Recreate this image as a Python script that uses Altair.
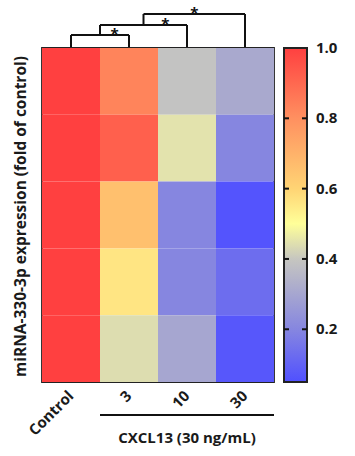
import altair as alt
import pandas as pd

# ---- data ----
groups = ["Control", "3", "10", "30"]
replicates = ["1", "2", "3", "4", "5"]
control_vals = [1.00, 1.00, 1.00, 1.00, 1.00]
cxcl3_vals = [0.83, 0.92, 0.66, 0.56, 0.44]
cxcl10_vals = [0.39, 0.45, 0.20, 0.20, 0.30]
cxcl30_vals = [0.31, 0.20, 0.06, 0.13, 0.07]
legend_ticks = [0.2, 0.4, 0.6, 0.8, 1.0]
color_domain = [0.05, 0.2, 0.4, 0.5, 0.6, 0.8, 1.0]
color_range = ["#5050FF", "#8686E0", "#C6C6C0", "#FFFF99", "#FFD474", "#FF9060", "#FF4040"]
# significance comparisons: each bracket ends on this column index
sig_right = [1, 2, 3]

FONT = "Open Sans"
W, H = 232, 334
cw = W / len(groups)
TXT = "#1a1a1a"

rows = []
for g, vals in zip(groups, [control_vals, cxcl3_vals, cxcl10_vals, cxcl30_vals]):
    for r, v in zip(replicates, vals):
        rows.append({"group": g, "rep": r, "value": v})
df = pd.DataFrame(rows)

cscale = alt.Scale(domain=color_domain, range=color_range, interpolate="rgb")

heat = alt.Chart(df).mark_rect().encode(
    x=alt.X("group:N", sort=groups, scale=alt.Scale(paddingInner=0, paddingOuter=0),
            axis=alt.Axis(title=None, labelAngle=-45, labelAlign="right", labelBaseline="middle",
                          labelPadding=11, ticks=False, domain=False, labelFont=FONT,
                          labelFontSize=15, labelFontWeight="bold", labelColor=TXT)),
    y=alt.Y("rep:N", sort=replicates, scale=alt.Scale(paddingInner=0, paddingOuter=0),
            axis=alt.Axis(labels=False, ticks=False, domain=False,
                          title="miRNA-330-3p expression (fold of control)",
                          titleFont=FONT, titleFontSize=15.5, titleFontWeight="bold",
                          titleColor=TXT, titleAngle=-90, titleX=-22, titleY=H / 2 + 1,
                          titleAlign="center", titleBaseline="middle")),
    color=alt.Color("value:Q", scale=cscale, legend=None),
)

# ---- colour bar (same stops as the colour scale) ----
lo, hi = color_domain[0], color_domain[-1]
stops = [alt.GradientStop(offset=(d - lo) / (hi - lo), color=c) for d, c in zip(color_domain, color_range)]
CB_X0, CB_X1 = 242, 265
cb_df = pd.DataFrame([{"x": CB_X0, "x2": CB_X1, "y": 0, "y2": H}])
cbar = alt.Chart(cb_df).mark_rect(
    fill=alt.LinearGradient(gradient="linear", stops=stops, x1=0, x2=0, y1=1, y2=0),
    stroke="#222", strokeWidth=2,
).encode(x=alt.X("x:Q", scale=None, axis=None), x2="x2:Q",
         y=alt.Y("y:Q", scale=None, axis=None), y2="y2:Q")

cb_rows = []
for v in legend_ticks[:-1]:
    py = (hi - v) / (hi - lo) * H
    cb_rows.append({"x": CB_X0, "x2": CB_X0 + 5, "y": py})
    cb_rows.append({"x": CB_X1 - 5, "x2": CB_X1, "y": py})
cb_ticks = alt.Chart(pd.DataFrame(cb_rows)).mark_rule(color="#111", strokeWidth=2).encode(
    x=alt.X("x:Q", scale=None, axis=None), x2="x2:Q",
    y=alt.Y("y:Q", scale=None, axis=None))

lab_df = pd.DataFrame({"v": legend_ticks})
lab_df["py"] = (hi - lab_df["v"]) / (hi - lo) * H
lab_df["px"] = CB_X1 + 9
cb_labels = alt.Chart(lab_df).mark_text(
    font=FONT, fontSize=15, fontWeight="bold", color=TXT, align="left", baseline="middle",
).encode(x=alt.X("px:Q", scale=None, axis=None), y=alt.Y("py:Q", scale=None, axis=None),
         text=alt.Text("v:Q", format=".1f"))

# ---- significance brackets, built from column centres ----
def cx(i):
    return (i + 0.5) * cw

seg = []
stars = []
levels = [-13, -23, -34]
left_x = cx(0)
left_bottom = -1
for k, ri in enumerate(sig_right):
    top = levels[k]
    rx = cx(ri)
    seg.append({"x": left_x, "x2": rx, "y": top, "y2": top})
    seg.append({"x": left_x, "x2": left_x, "y": top, "y2": left_bottom})
    seg.append({"x": rx, "x2": rx, "y": top, "y2": -1})
    mid = (left_x + rx) / 2
    star_left = mid if k < len(sig_right) - 1 else left_x
    stars.append({"x": (star_left + rx) / 2, "y": top + 4})
    left_x = mid
    left_bottom = top
seg_df = pd.DataFrame(seg)
star_df = pd.DataFrame(stars)

brackets = alt.Chart(seg_df).mark_rule(color="#111", strokeWidth=2).encode(
    x=alt.X("x:Q", scale=None, axis=None), x2="x2:Q",
    y=alt.Y("y:Q", scale=None, axis=None), y2="y2:Q",
)
star_txt = alt.Chart(star_df).mark_text(text="*", font=FONT, fontSize=15, fontWeight="bold",
                                        color="#111", baseline="alphabetic").encode(
    x=alt.X("x:Q", scale=None, axis=None), y=alt.Y("y:Q", scale=None, axis=None))

# ---- group line and label under the CXCL13 columns ----
grp_df = pd.DataFrame([{"x": cx(1) - cw / 2, "x2": cx(3) + cw / 2, "y": H + 33, "y2": H + 33,
                        "tx": (cx(1) + cx(3)) / 2, "ty": H + 56, "label": "CXCL13 (30 ng/mL)"}])
grp_line = alt.Chart(grp_df).mark_rule(color="#111", strokeWidth=2).encode(
    x=alt.X("x:Q", scale=None, axis=None), x2="x2:Q",
    y=alt.Y("y:Q", scale=None, axis=None), y2="y2:Q")
grp_text = alt.Chart(grp_df).mark_text(font=FONT, fontSize=15, fontWeight="bold",
                                       color=TXT, baseline="middle").encode(
    x=alt.X("tx:Q", scale=None, axis=None), y=alt.Y("ty:Q", scale=None, axis=None),
    text="label:N")

chart = alt.layer(
    heat, brackets, star_txt, grp_line, grp_text, cbar, cb_ticks, cb_labels
).resolve_scale(
    x="independent", y="independent"
).properties(
    width=W, height=H,
    autosize=alt.AutoSizeParams(type="none"),
    padding={"left": 42, "top": 48, "right": 81, "bottom": 74},
    background="white",
).configure_view(stroke="#222", strokeWidth=1.8)

chart.save("out.html", embed_options={"renderer": "svg", "actions": False})
